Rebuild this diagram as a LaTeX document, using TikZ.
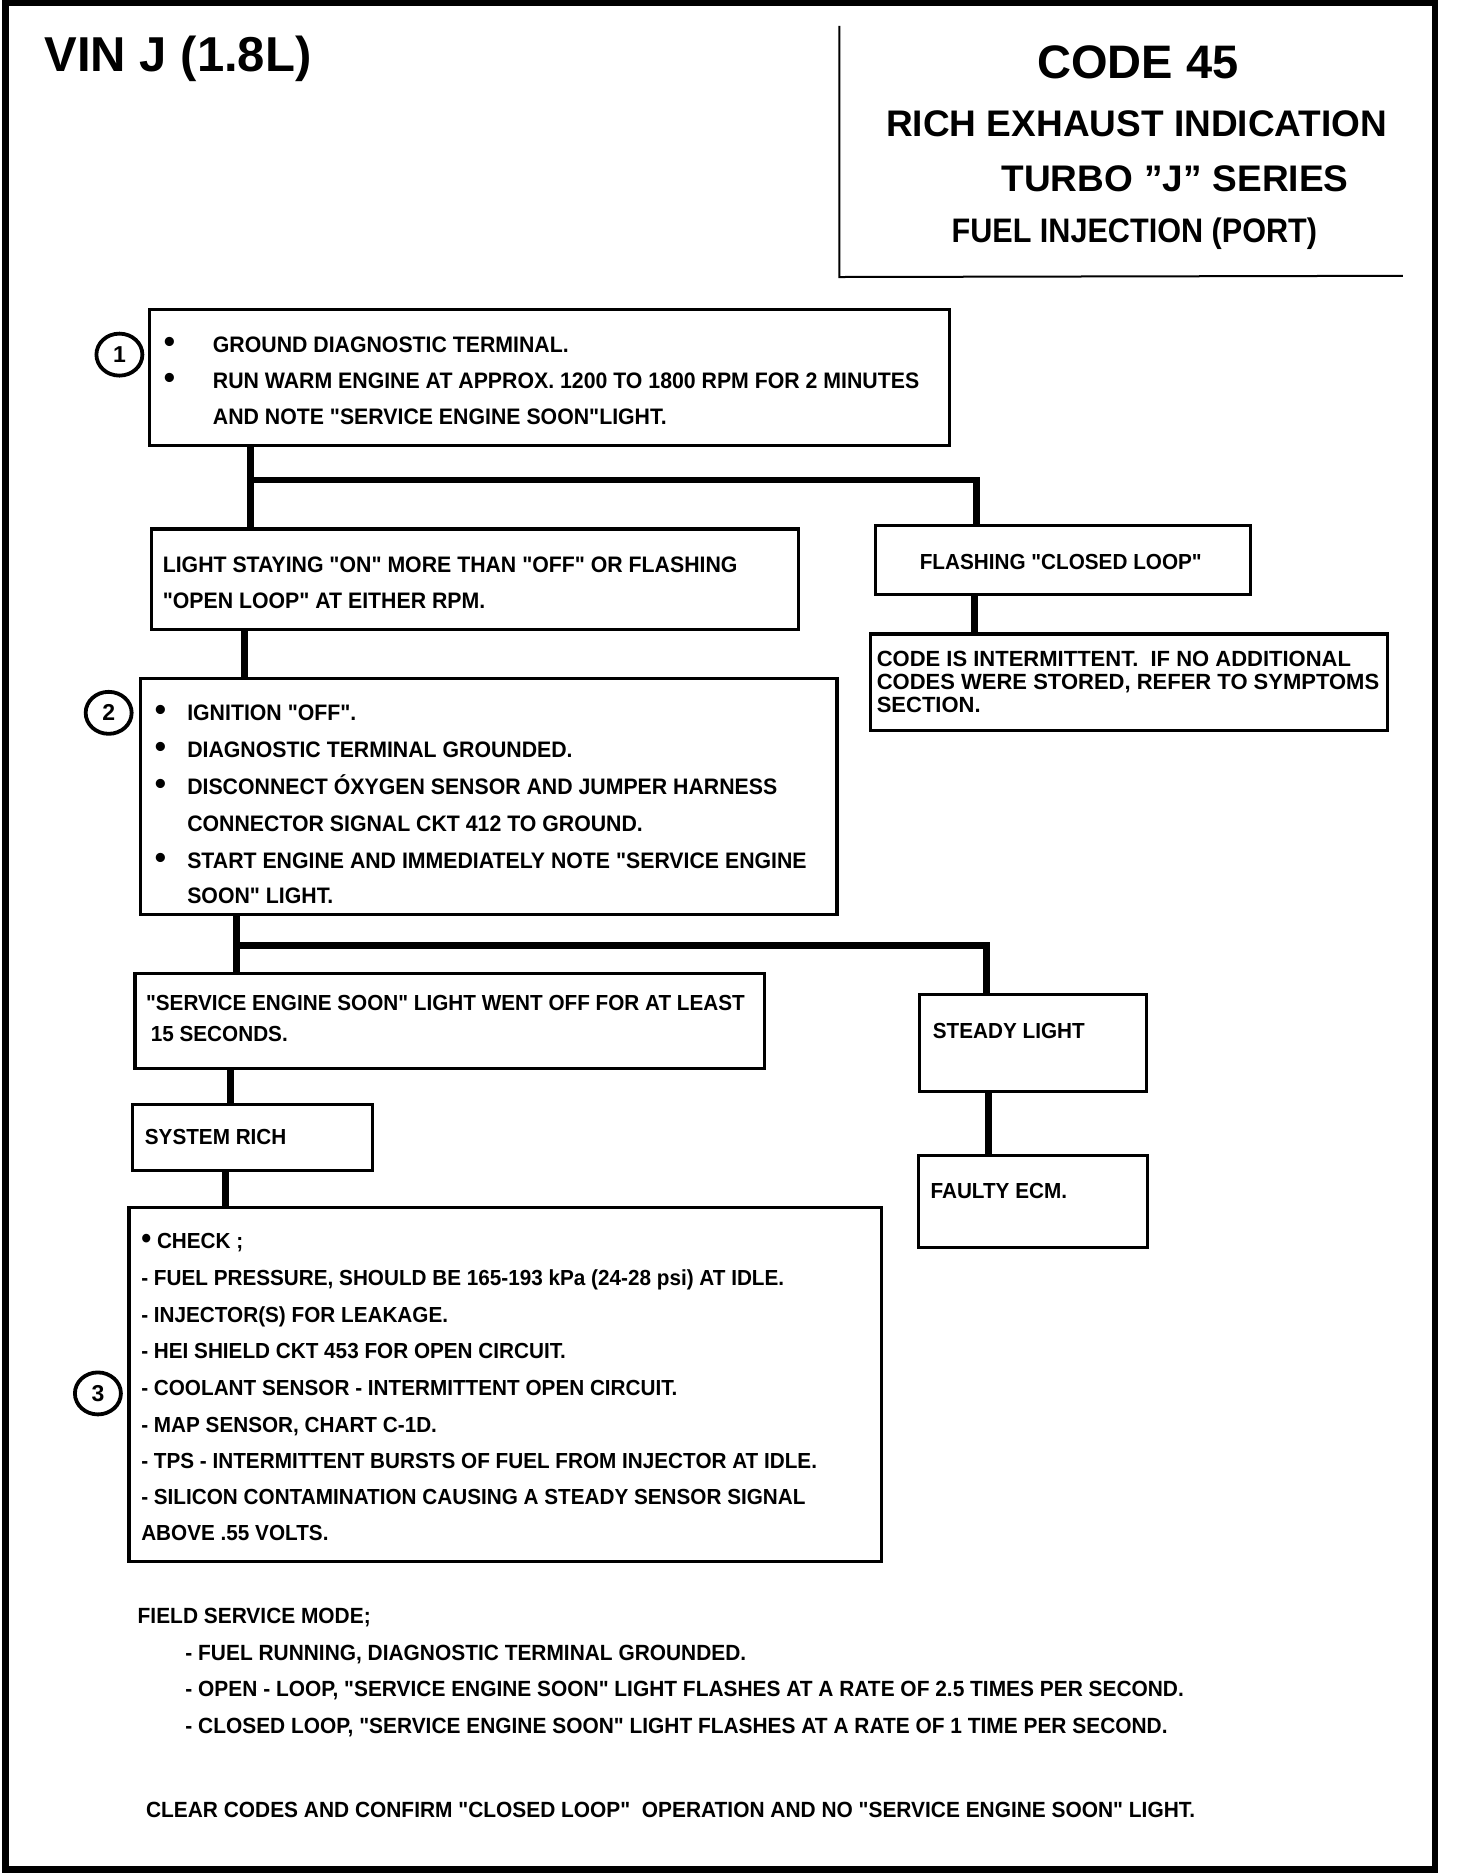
\documentclass[tikz,border=0pt]{standalone}
\usepackage{fontspec}
\setmainfont{Liberation Sans}
\newfontfamily\bxf[FakeStretch=0.95]{Liberation Sans}
\newfontfamily\lowf[FakeStretch=0.95]{Liberation Sans}
\newfontfamily\fuelf[FakeStretch=0.9]{Liberation Sans}
\usetikzlibrary{fit,shapes.geometric}
\begin{document}
\begin{tikzpicture}[x=0.597pt,y=-0.597pt,
  box/.style={draw, line width=1.6pt, inner sep=0pt},
  conn/.style={line width=3.4pt},
  txt/.style={anchor=base west, inner sep=0pt, font=\bxf\bfseries\fontsize{11.2}{12}\selectfont},
  txtb/.style={anchor=base west, inner sep=0pt, font=\bxf\bfseries\fontsize{10.9}{12}\selectfont},
  bul/.style={anchor=base, inner sep=0pt, font=\bfseries\fontsize{16}{16}\selectfont},
  ctxt/.style={anchor=base west, inner sep=0pt, font=\bfseries\fontsize{11}{12}\selectfont},
  ltxt/.style={anchor=base west, inner sep=0pt, font=\lowf\bfseries\fontsize{11}{12}\selectfont},
  num/.style={draw, ellipse, line width=1.9pt, minimum width=23pt, minimum height=21pt, inner sep=0pt, font=\bfseries\fontsize{11.5}{11.5}\selectfont}
]
\useasboundingbox (0,0) rectangle (1232.8,1569.5);
% outer frame
\draw[line width=3.3pt] (4.6,2.1) rectangle (1201.8,1565.7);
% title frame
\draw[line width=1pt] (703,21.6) -- (703,232) -- (1175,231);
\node[anchor=base west, inner sep=0pt, font=\bfseries\fontsize{24.5}{25}\selectfont] (vin) at (37,60) {VIN J (1.8L)};
\node[anchor=base, inner sep=0pt, font=\bfseries\fontsize{23.5}{24}\selectfont] (code) at (953,65.4) {CODE 45};
\node[anchor=base, inner sep=0pt, font=\bfseries\fontsize{18.5}{20}\selectfont] (rich) at (952,114.7) {RICH EXHAUST INDICATION};
\node[anchor=base, inner sep=0pt, font=\bfseries\fontsize{18.5}{20}\selectfont] (turbo) at (984,160) {TURBO\hspace{0.3em}"J"\hspace{0.3em}SERIES};
\node[anchor=base, inner sep=0pt, font=\fuelf\bfseries\fontsize{17}{18}\selectfont] (fuel) at (950,203) {FUEL INJECTION (PORT)};

% boxes
\node[box, fit={(125,259)(795,373)}] (b1) {};
\node[box, fit={(127,443)(669,527)}] (blight) {};
\node[box, fit={(733,440)(1047,498)}] (bflash) {};
\node[box, fit={(729,531)(1162,612)}] (bint) {};
\node[box, fit={(118,568)(701,766)}] (b2) {};
\node[box, fit={(113,815)(640,895)}] (bses) {};
\node[box, fit={(770,833)(960,914)}] (bsteady) {};
\node[box, fit={(769,968)(961,1045)}] (becm) {};
\node[box, fit={(111,925)(312,980)}] (brich) {};
\node[box, fit={(108,1011)(738,1308)}] (bcheck) {};

% step numbers
\node[num] (n1) at (100,297) {1};
\node[num] (n2) at (91,597) {2};
\node[num] (n3) at (82,1167) {3};

% box 1 text
\node[bul] (b1u1) at (142,295.5) {\textbullet};
\node[txt] (t11) at (178,295.5) {GROUND DIAGNOSTIC TERMINAL.};
\node[bul] (b1u2) at (142,325.5) {\textbullet};
\node[txt] (t12) at (178,325.5) {RUN WARM ENGINE AT APPROX. 1200 TO 1800 RPM FOR 2 MINUTES};
\node[txt] (t13) at (178,355.5) {AND NOTE "SERVICE ENGINE SOON"LIGHT.};

% light box
\node[txt] (tl1) at (136,479.5) {LIGHT STAYING "ON" MORE THAN "OFF" OR FLASHING};
\node[txt] (tl2) at (136,510) {"OPEN LOOP" AT EITHER RPM.};

% flashing
\node[txtb] (tf) at (770,477) {FLASHING "CLOSED LOOP"};

% intermittent
\node[ctxt] (ti1) at (734,558.5) {CODE IS INTERMITTENT.\ \ IF NO ADDITIONAL};
\node[ctxt] (ti2) at (734,577.5) {CODES WERE STORED, REFER TO SYMPTOMS};
\node[ctxt] (ti3) at (734,596.5) {SECTION.};

% box 2
\node[bul] (b2u1) at (134.5,603.5) {\textbullet};
\node[txt] (t21) at (156.5,603.5) {IGNITION "OFF".};
\node[bul] (b2u2) at (134.5,634.5) {\textbullet};
\node[txt] (t22) at (156.5,634.5) {DIAGNOSTIC TERMINAL GROUNDED.};
\node[bul] (b2u3) at (134.5,665.5) {\textbullet};
\node[txt] (t23) at (156.5,665.5) {DISCONNECT ÓXYGEN SENSOR AND JUMPER HARNESS};
\node[txt] (t24) at (156.5,696.5) {CONNECTOR SIGNAL CKT 412 TO GROUND.};
\node[bul] (b2u4) at (134.5,727.5) {\textbullet};
\node[txt] (t25) at (156.5,727.5) {START ENGINE AND IMMEDIATELY NOTE "SERVICE ENGINE};
\node[txt] (t26) at (156.5,756.5) {SOON" LIGHT.};

% ses
\node[txtb] (ts1) at (122,846.5) {"SERVICE ENGINE SOON" LIGHT WENT OFF FOR AT LEAST};
\node[txtb] (ts2) at (126,872.5) {15 SECONDS.};
\node[txtb] (tst) at (781,869.5) {STEADY LIGHT};
\node[txtb] (tecm) at (779,1003.5) {FAULTY ECM.};
\node[txtb] (tri) at (121,958.5) {SYSTEM RICH};

% check
\node[txtb] (c1) at (118,1046) {{\fontsize{15}{15}\selectfont\textbullet} CHECK ;};
\node[txtb] (c2) at (118,1077) {- FUEL PRESSURE, SHOULD BE 165-193 kPa (24-28 psi) AT IDLE.};
\node[txtb] (c3) at (118,1108) {- INJECTOR(S) FOR LEAKAGE.};
\node[txtb] (c4) at (118,1138) {- HEI SHIELD CKT 453 FOR OPEN CIRCUIT.};
\node[txtb] (c5) at (118,1169) {- COOLANT SENSOR - INTERMITTENT OPEN CIRCUIT.};
\node[txtb] (c6) at (118,1200) {- MAP SENSOR, CHART C-1D.};
\node[txtb] (c7) at (118,1230) {- TPS - INTERMITTENT BURSTS OF FUEL FROM INJECTOR AT IDLE.};
\node[txtb] (c8) at (118,1260) {- SILICON CONTAMINATION CAUSING A STEADY SENSOR SIGNAL};
\node[txtb] (c9) at (118,1290) {ABOVE .55 VOLTS.};

% field service
\node[ltxt] (f0) at (115,1360) {FIELD SERVICE MODE;};
\node[ltxt] (f1) at (155,1391) {- FUEL RUNNING, DIAGNOSTIC TERMINAL GROUNDED.};
\node[ltxt] (f2) at (155,1421) {- OPEN - LOOP, "SERVICE ENGINE SOON" LIGHT FLASHES AT A RATE OF 2.5 TIMES PER SECOND.};
\node[ltxt] (f3) at (155,1452) {- CLOSED LOOP, "SERVICE ENGINE SOON" LIGHT FLASHES AT A RATE OF 1 TIME PER SECOND.};
\node[ltxt] (clr) at (122,1522) {CLEAR CODES AND CONFIRM "CLOSED LOOP"\ \ OPERATION AND NO "SERVICE ENGINE SOON" LIGHT.};

% connectors
\coordinate (j1) at (210,402);
\coordinate (j1r) at (818,402);
\coordinate (k1) at (816,515);
\coordinate (k2) at (205,548);
\coordinate (j2) at (198,792);
\coordinate (j2r) at (826,792);
\coordinate (k3) at (828,940);
\coordinate (k4) at (193,910);
\coordinate (k5) at (189,995);
\draw[conn] (b1.south -| j1) -- (blight.north -| j1);
\draw[conn] (j1) -- (j1r) -- (bflash.north -| j1r);
\draw[conn] (bflash.south -| k1) -- (bint.north -| k1);
\draw[conn] (blight.south -| k2) -- (b2.north -| k2);
\draw[conn] (b2.south -| j2) -- (bses.north -| j2);
\draw[conn] (j2) -- (j2r) -- (bsteady.north -| j2r);
\draw[conn] (bsteady.south -| k3) -- (becm.north -| k3);
\draw[conn] (bses.south -| k4) -- (brich.north -| k4);
\draw[conn] (brich.south -| k5) -- (bcheck.north -| k5);
\end{tikzpicture}
\end{document}
